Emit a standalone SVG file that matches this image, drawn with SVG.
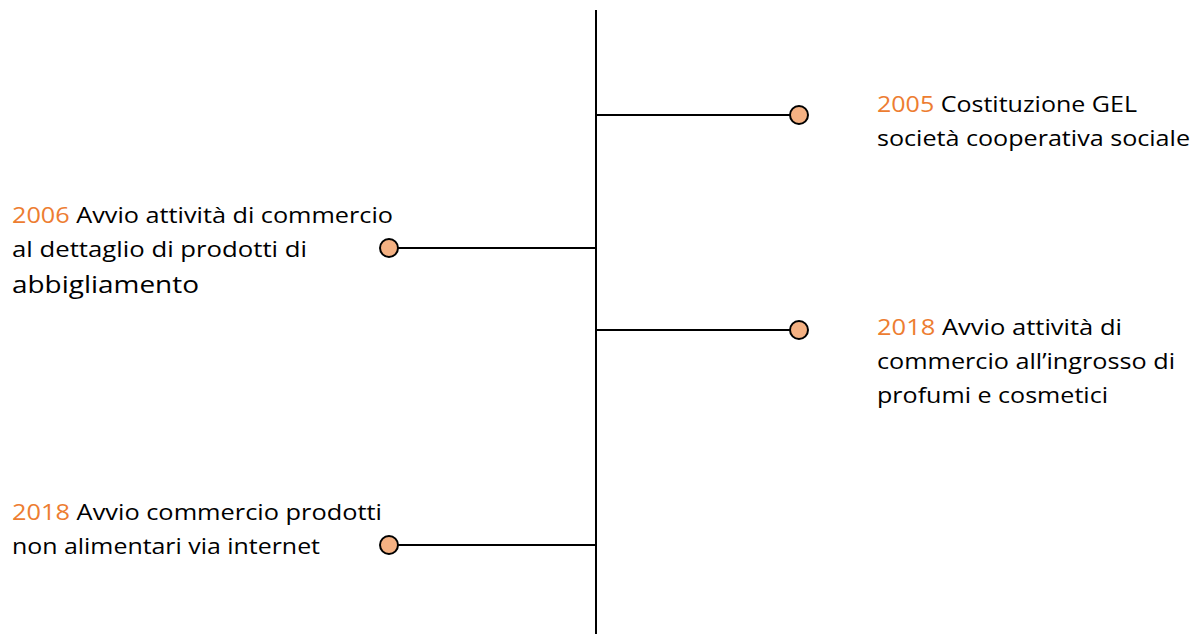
<svg xmlns="http://www.w3.org/2000/svg" width="1199" height="634" viewBox="0 0 1199 634">
<style>
.t{font-family:"Open Sans","Noto Sans",sans-serif;font-size:22px;fill:#000}
.y{fill:#ED7D31}
.c{stroke:#000;stroke-width:2;fill:none}
.d{fill:#F4B183;stroke:#000;stroke-width:2}
</style>
<rect width="1199" height="634" fill="#fff"/>
<g id="connectors">
<line class="c" x1="596" y1="10" x2="596" y2="634"/>
<line class="c" x1="596" y1="115" x2="790" y2="115"/>
<line class="c" x1="398" y1="248" x2="596" y2="248"/>
<line class="c" x1="596" y1="330" x2="790" y2="330"/>
<line class="c" x1="398" y1="545" x2="596" y2="545"/>
</g>
<g id="n2005">
<circle class="d" cx="799" cy="115" r="9"/>
<text class="t" x="877" y="112" textLength="260" lengthAdjust="spacingAndGlyphs"><tspan class="y">2005</tspan> Costituzione GEL</text>
<text class="t" x="877" y="146" textLength="313" lengthAdjust="spacingAndGlyphs">società cooperativa sociale</text>
</g>
<g id="n2006">
<circle class="d" cx="389" cy="248" r="9"/>
<text class="t" x="12" y="223" textLength="381" lengthAdjust="spacingAndGlyphs"><tspan class="y">2006</tspan> Avvio attività di commercio</text>
<text class="t" x="12" y="257" textLength="295" lengthAdjust="spacingAndGlyphs">al dettaglio di prodotti di</text>
<text class="t" x="12" y="293" style="font-size:24px" textLength="187" lengthAdjust="spacingAndGlyphs">abbigliamento</text>
</g>
<g id="n2018a">
<circle class="d" cx="799" cy="330" r="9"/>
<text class="t" x="877" y="335" textLength="245" lengthAdjust="spacingAndGlyphs"><tspan class="y">2018</tspan> Avvio attività di</text>
<text class="t" x="877" y="369" textLength="298" lengthAdjust="spacingAndGlyphs">commercio all’ingrosso di</text>
<text class="t" x="877" y="403" textLength="231" lengthAdjust="spacingAndGlyphs">profumi e cosmetici</text>
</g>
<g id="n2018b">
<circle class="d" cx="389" cy="545" r="9"/>
<text class="t" x="12" y="520" textLength="370" lengthAdjust="spacingAndGlyphs"><tspan class="y">2018</tspan> Avvio commercio prodotti</text>
<text class="t" x="12" y="554" textLength="308" lengthAdjust="spacingAndGlyphs">non alimentari via internet</text>
</g>
</svg>
